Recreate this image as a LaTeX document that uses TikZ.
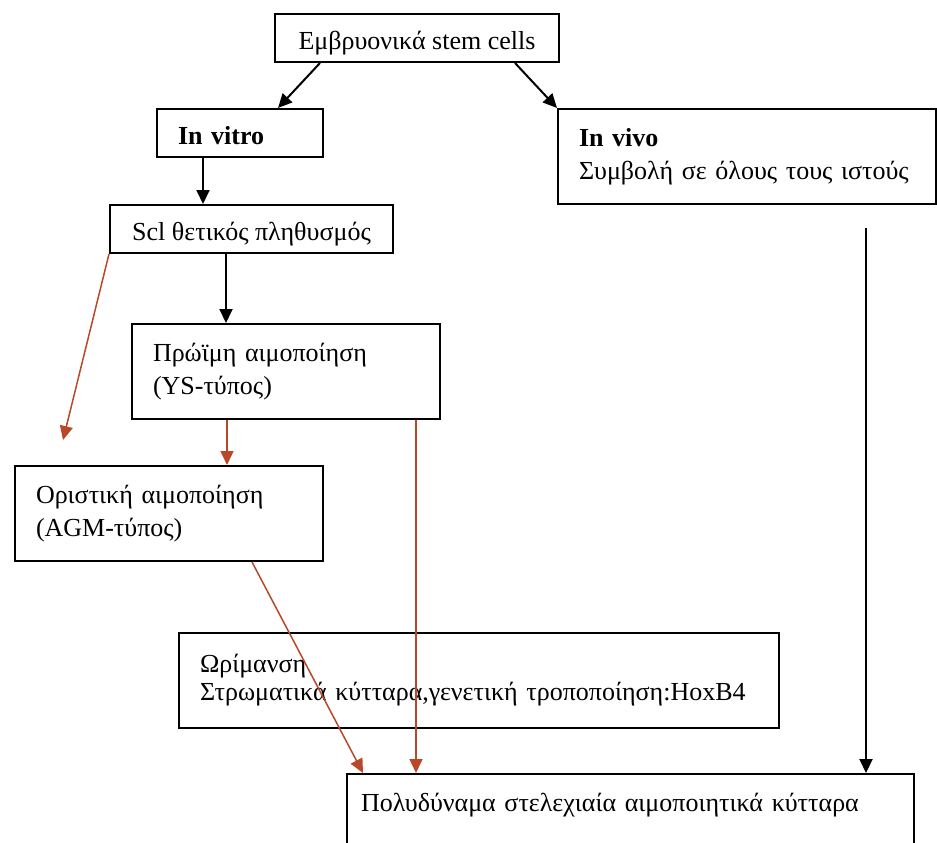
\documentclass[tikz,border=0pt]{standalone}
\usepackage{fontspec}
\setmainfont{Liberation Serif}
\usetikzlibrary{arrows.meta}
\definecolor{rustred}{RGB}{184,72,40}
\tikzset{
  box/.style={draw, line width=2pt, anchor=north west, inner xsep=21pt, inner ysep=0pt, align=left, font=\fontsize{26}{33}\selectfont},
  cbox/.style={box, align=center, inner xsep=0pt, text height=24pt, text depth=2pt},
  blk/.style={line width=2pt, -{Triangle[length=14pt,width=13pt]}},
  rst/.style={rustred, line width=1.5pt, -{Triangle[length=14pt,width=13pt]}},
}
\begin{document}
\begin{tikzpicture}[x=1pt,y=-1pt]
\useasboundingbox (0,0) rectangle (937,843);

\node[cbox, minimum width=284, minimum height=48] (embryo) at (274,13) {Εμβρυονικά stem cells};
\node[box, text width=124, minimum height=48, text height=24pt, text depth=2pt] (invitro) at (156,108) {\textbf{In vitro}};
\node[box, text width=336, minimum height=95] (invivo) at (557,108) {\textbf{In vivo}\\Συμβολή σε όλους τους ιστούς};
\node[cbox, minimum width=283, minimum height=48] (scl) at (109,204) {Scl θετικός πληθυσμός};
\node[box, text width=266, minimum height=95] (early) at (131,323) {Πρώϊμη αιμοποίηση\\(YS-τύπος)};
\node[box, text width=266, minimum height=95] (defin) at (14,465) {Οριστική αιμοποίηση\\(AGM-τύπος)};
\node[box, text width=558, minimum height=95] (mature) at (178,632) {Ωρίμανση\\[-5pt]Στρωματικά κύτταρα,γενετική τροποποίηση:HoxB4};
\node[box, inner xsep=14pt, text width=539, text height=37, text depth=80] (stem) at (346,773) {Πολυδύναμα στελεχιαία αιμοποιητικά κύτταρα};

\coordinate (sclend) at (63,440);
\coordinate (vivostart) at ([xshift=309pt,yshift=-23pt]invivo.south west);

% black arrows
\draw[blk] ([xshift=46pt]embryo.south west) -- ([xshift=122pt]invitro.north west);
\draw[blk] ([xshift=-45pt]embryo.south east) -- (invivo.north west);
\draw[blk] ([xshift=47pt]invitro.south west) -- ([xshift=94pt]scl.north west);
\draw[blk] ([xshift=117pt]scl.south west) -- ([xshift=95pt]early.north west);
\draw[blk] (vivostart) -- ([xshift=520pt]stem.north west);

% brown arrows
\draw[rst] (scl.south west) -- (sclend);
\draw[rst] ([xshift=96pt]early.south west) -- ([xshift=213pt]defin.north west);
\draw[rst] ([xshift=285pt]early.south west) -- ([xshift=70pt]stem.north west);
\draw[rst] ([xshift=238pt]defin.south west) -- ([xshift=17pt]stem.north west);
\end{tikzpicture}
\end{document}
